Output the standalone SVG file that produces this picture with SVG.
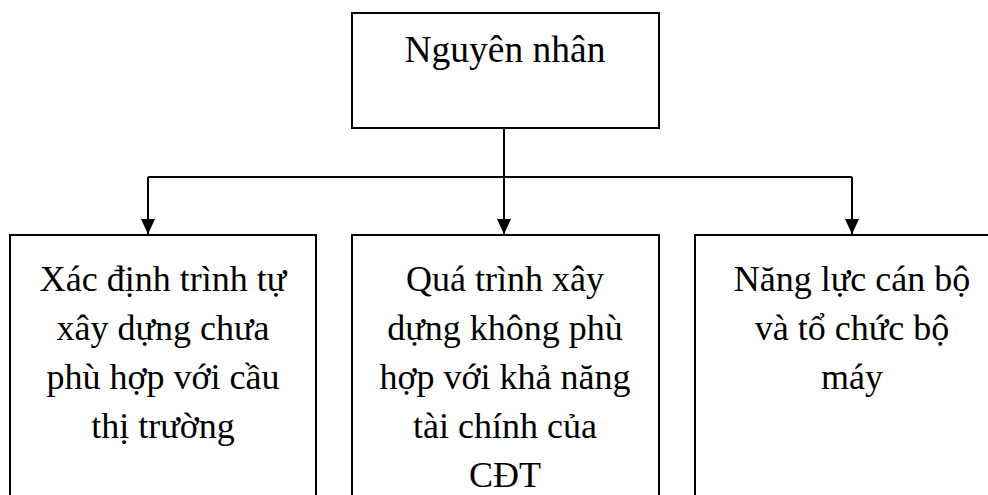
<svg xmlns="http://www.w3.org/2000/svg" width="988" height="495" viewBox="0 0 988 495">
<style>
.box{fill:#fff;stroke:#000;stroke-width:2}
.lbl{font-family:"Liberation Serif","Times New Roman",serif;font-size:36px;fill:#000;text-anchor:middle}
.conn{fill:none;stroke:#000;stroke-width:2}
</style>
<defs>
<marker id="arrow" markerWidth="15" markerHeight="16" refX="16" refY="7.5" orient="auto" markerUnits="userSpaceOnUse" viewBox="0 0 16 15">
<path d="M0,0 L16,7.5 L0,15 Z" fill="#000"/>
</marker>
</defs>
<g id="root">
<rect class="box" x="352" y="13" width="307" height="115"/>
<text class="lbl" x="505" y="62" style="font-size:37.5px">Nguyên nhân</text>
</g>
<g id="n1">
<rect class="box" x="10" y="235" width="306" height="280"/>
<text class="lbl" x="163" y="291">Xác định trình tự</text>
<text class="lbl" x="163" y="340">xây dựng chưa</text>
<text class="lbl" x="163" y="389">phù hợp với cầu</text>
<text class="lbl" x="163" y="438">thị trường</text>
</g>
<g id="n2">
<rect class="box" x="352" y="235" width="307" height="280"/>
<text class="lbl" x="505" y="291">Quá trình xây</text>
<text class="lbl" x="505" y="340">dựng không phù</text>
<text class="lbl" x="505" y="389">hợp với khả năng</text>
<text class="lbl" x="505" y="438">tài chính của</text>
<text class="lbl" x="505" y="487">CĐT</text>
</g>
<g id="n3">
<rect class="box" x="695" y="235" width="320" height="280"/>
<text class="lbl" x="852" y="291">Năng lực cán bộ</text>
<text class="lbl" x="852" y="340">và tổ chức bộ</text>
<text class="lbl" x="852" y="389">máy</text>
</g>
<g id="connectors">
<path class="conn" d="M504,128 V177"/>
<path class="conn" d="M148,177 H852"/>
<path class="conn" d="M148,177 V234" marker-end="url(#arrow)"/>
<path class="conn" d="M504,177 V234" marker-end="url(#arrow)"/>
<path class="conn" d="M852,177 V234" marker-end="url(#arrow)"/>
</g>
</svg>
